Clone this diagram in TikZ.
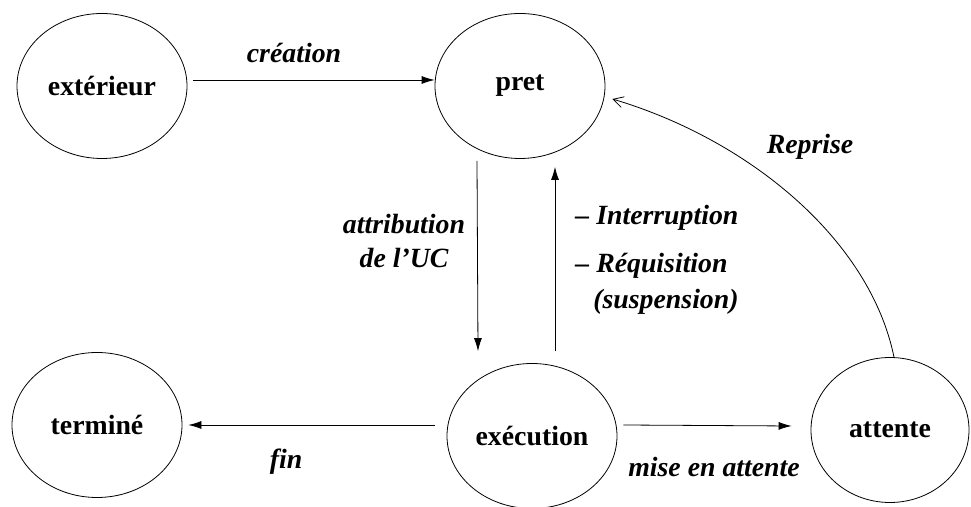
\documentclass[tikz,border=0pt]{standalone}
\usepackage{fontspec}
\setmainfont{Liberation Serif}
\usetikzlibrary{shapes.geometric,arrows.meta}
\begin{document}
\begin{tikzpicture}[x=0.5pt,y=-0.5pt,
        etat/.style={ellipse,draw,inner sep=0pt,minimum width=85pt,minimum height=72.5pt,font=\fontsize{13.9}{16}\selectfont\bfseries},
        lbl/.style={inner sep=0pt,font=\fontsize{13.9}{16}\selectfont\bfseries\itshape},
        fl/.style={-{Latex[length=6.5pt,width=4pt]}},
        fo/.style={-{Straight Barb[length=5pt,width=5.5pt]}}]
            \useasboundingbox (0,0) rectangle (971,507);
            \node(ext)[etat] at (102,86){extérieur};
            \node(pret)[etat] at (520,86){pret};
            \node(term)[etat] at (97,425){terminé};
            \node(exec)[etat] at (532,436){exécution};
            \node(att)[etat,minimum width=79pt] at (890,430){attente};
            \draw[fl] ([shift={(6,-6)}]ext.east) -- ([shift={(0,-6)}]pret.west);
            \draw[fl] ([shift={(-43,2)}]pret.south) -- ([shift={(-54,-12)}]exec.north);
            \draw[fl] ([shift={(23,-12)}]exec.north) -- ([shift={(35,8)}]pret.south);
            \draw[fl] ([shift={(-12,-11)}]exec.west) -- ([shift={(6,0)}]term.east);
            \draw[fl] ([shift={(6,-11)}]exec.east) -- ([shift={(-19,-4)}]att.west);
            \draw[fo] ([shift={(4,0)}]att.north) .. controls (870,240) and (750,140) .. ([shift={(7,13)}]pret.east);
            \node(l1)[lbl] at (294,53){création};
            \node(l2)[lbl,align=center] at (404,241){attribution\\[1pt]de l'UC};
            \node(l3)[lbl,anchor=west] at (575,218){– Interruption};
            \node(l4)[lbl,anchor=west] at (575,266){– Réquisition};
            \node(l5)[lbl,anchor=west] at (593,302){(suspension)};
            \node(l6)[lbl] at (810,147){Reprise};
            \node(l7)[lbl] at (286,462){fin};
            \node(l8)[lbl] at (714,467){mise en attente};
        \end{tikzpicture}
\end{document}
